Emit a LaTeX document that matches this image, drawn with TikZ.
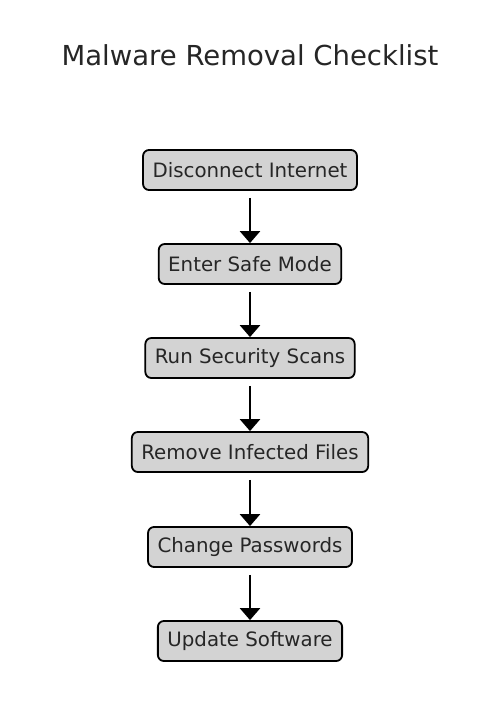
\documentclass[tikz,border=0pt]{standalone}
\usepackage{fontspec}
\setmainfont{DejaVu Sans}
\usetikzlibrary{arrows.meta}
\definecolor{txt}{RGB}{38,38,38}
\definecolor{boxfill}{RGB}{211,211,211}
\tikzset{
  stepbox/.style={draw=black, line width=1.8pt, fill=boxfill, rounded corners=6pt,
    minimum height=40pt, inner xsep=9.5pt, text=txt, font=\fontsize{19.8}{22}\selectfont},
  arr/.style={line width=2.6pt, shorten <=7pt, -{Triangle[width=20pt,length=12pt]}}
}
\begin{document}
\begin{tikzpicture}[x=1pt,y=-1pt]
\useasboundingbox (0,0) rectangle (500,714);
\node[text=txt, font=\fontsize{27.5}{30}\selectfont] (title) at (250,55) {Malware Removal Checklist};
\node[stepbox] (s1) at (250,170) {Disconnect Internet};
\node[stepbox] (s2) at (250,264) {Enter Safe Mode};
\node[stepbox] (s3) at (250,358) {Run Security Scans};
\node[stepbox] (s4) at (250,452) {Remove Infected Files};
\node[stepbox] (s5) at (250,547) {Change Passwords};
\node[stepbox] (s6) at (250,641) {Update Software};
\draw[arr] (s1) -- (s2);
\draw[arr] (s2) -- (s3);
\draw[arr] (s3) -- (s4);
\draw[arr] (s4) -- (s5);
\draw[arr] (s5) -- (s6);
\end{tikzpicture}
\end{document}
